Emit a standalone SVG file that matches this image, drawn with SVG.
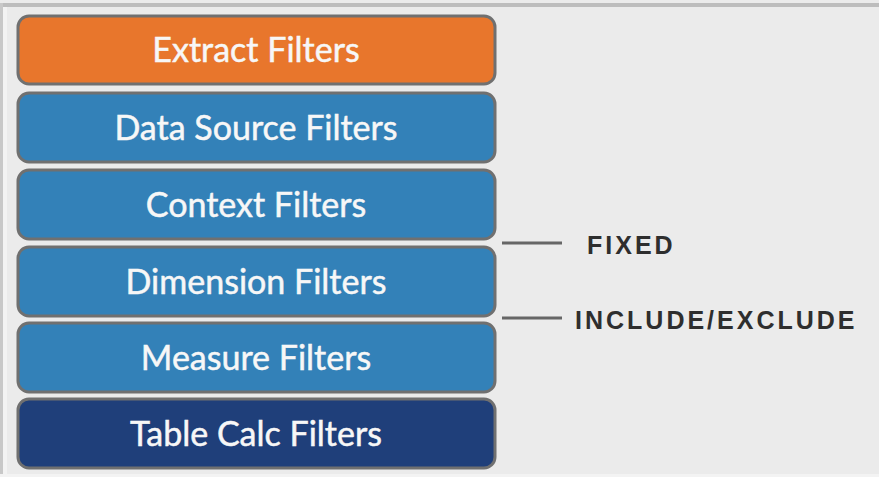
<svg xmlns="http://www.w3.org/2000/svg" width="879" height="477" viewBox="0 0 879 477">
<style>
.box{stroke:#707070;stroke-width:3}
.t{font-family:Lato,"Open Sans",sans-serif;font-size:34px;fill:#f7f7f7;stroke:#f7f7f7;stroke-width:0.5;text-anchor:middle}
.lbl{font-family:"Liberation Sans",Arial,sans-serif;font-weight:bold;font-size:25px;fill:#2e2e2e;letter-spacing:3px}
.conn{stroke:#666666;stroke-width:3}
</style>
<rect x="0" y="0" width="879" height="477" fill="#ebebeb"/>
<rect x="0" y="3" width="879" height="4" fill="#bdbdbd"/>
<rect x="0" y="3" width="3" height="474" fill="#c8c8c8"/>
<rect x="3" y="7" width="4" height="470" fill="#f3f3f3"/>
<rect x="0" y="474" width="879" height="3" fill="#f3f3f3"/>
<g id="extract"><rect class="box" x="18" y="16" width="477" height="68" rx="11" fill="#e8762c"/><text class="t" x="256" y="62">Extract Filters</text></g>
<g id="datasource"><rect class="box" x="18" y="93" width="477" height="69" rx="11" fill="#3381b8"/><text class="t" x="256" y="140">Data Source Filters</text></g>
<g id="context"><rect class="box" x="18" y="170" width="477" height="69" rx="11" fill="#3381b8"/><text class="t" x="256" y="217">Context Filters</text></g>
<g id="dimension"><rect class="box" x="18" y="247" width="477" height="69" rx="11" fill="#3381b8"/><text class="t" x="256" y="294">Dimension Filters</text></g>
<g id="measure"><rect class="box" x="18" y="323" width="477" height="69" rx="11" fill="#3381b8"/><text class="t" x="256" y="370">Measure Filters</text></g>
<g id="tablecalc"><rect class="box" x="18" y="399" width="477" height="69" rx="11" fill="#1f3f7a"/><text class="t" x="256" y="446">Table Calc Filters</text></g>
<g id="connectors">
<line class="conn" x1="502" y1="243" x2="562" y2="243"/>
<line class="conn" x1="502" y1="318" x2="562" y2="318"/>
</g>
<g id="fixed"><text class="lbl" x="587" y="254">FIXED</text></g>
<g id="incexc"><text class="lbl" x="575" y="329">INCLUDE/EXCLUDE</text></g>
</svg>
